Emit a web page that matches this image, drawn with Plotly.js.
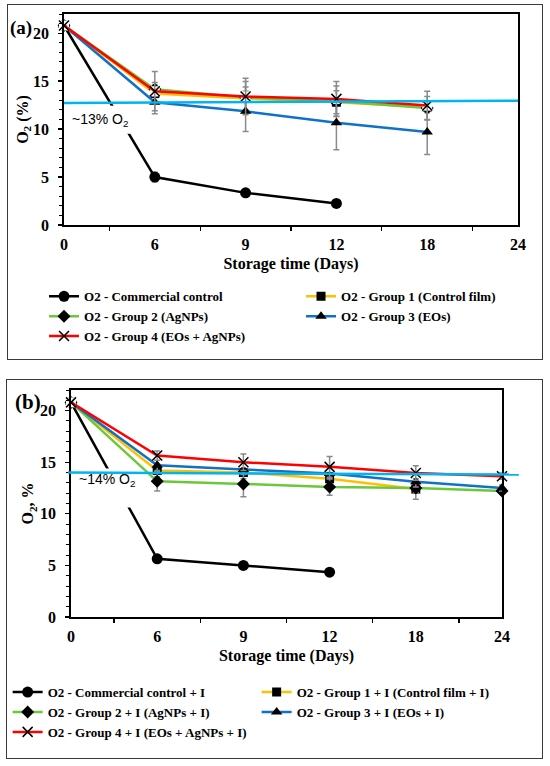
<!DOCTYPE html>
<html><head><meta charset="utf-8">
<script src="https://cdn.plot.ly/plotly-3.0.1.min.js"></script>
<style>
html,body{margin:0;padding:0;background:#fff;width:550px;height:766px;overflow:hidden}
.panel{position:absolute;box-sizing:border-box;border:1.5px solid #3a3a3a;background:#fff}
#pa{left:7px;top:4px;width:536px;height:356px}
#pb{left:6px;top:379px;width:537px;height:380px}
</style></head><body>
<div id="pa" class="panel"><div id="ga"></div></div>
<div id="pb" class="panel"><div id="gb"></div></div>
<script>
// ---------- shared ----------
const days = ['0', '6', '9', '12', '18', '24'];
const colors = { comm: '#000000', g1: '#FFC000', g2: '#6CC83A', g3: '#0F72C8', g4: '#FF0000', ref: '#00B4F0' };

// ---------- panel (a) ----------
const namesA = ['O2 - Commercial control', 'O2 - Group 1 (Control film)', 'O2 - Group 2 (AgNPs)', 'O2 - Group 3 (EOs)', 'O2 - Group 4 (EOs + AgNPs)'];
const aComm = [20.8, 5.0, 3.35, 2.25, null, null];
const aG1 = [20.8, 13.7, 13.2, 12.8, 12.3, null];
const aG2 = [20.8, 14.15, 13.3, 12.9, 12.2, null];
const aG3 = [20.8, 12.8, 11.85, 10.65, 9.7, null];
const aG4 = [20.8, 13.95, 13.4, 13.15, 12.45, null];
const aErrComm = [0, 0.5, 0.3, 0.3, 0, 0];
const aErrG1 = [0, 0.9, 1.2, 1.2, 0.6, 0];
const aErrG2 = [0, 0.7, 1.65, 1.6, 1.2, 0];
const aErrG3 = [0, 1.2, 2.1, 2.8, 2.35, 0];
const aErrG4 = [0, 2.05, 1.9, 1.8, 1.5, 0];
const aRef = [12.72, 12.95];
const aLabel = '~13% O<sub>2</sub>';

// ---------- panel (b) ----------
const namesB = ['O2 - Commercial control + I', 'O2 - Group 1 + I (Control film + I)', 'O2 - Group 2 + I (AgNPs + I)', 'O2 - Group 3 + I (EOs + I)', 'O2 - Group 4 + I (EOs + AgNPs + I)'];
const bComm = [20.8, 5.64, 5.0, 4.34, null, null];
const bG1 = [20.8, 14.2, 14.0, 13.4, 12.4, null];
const bG2 = [20.8, 13.15, 12.9, 12.6, 12.5, 12.2];
const bG3 = [20.8, 14.7, 14.3, 13.9, 13.1, 12.5];
const bG4 = [20.8, 15.65, 15.0, 14.55, 13.95, 13.65];
const bErrComm = [0, 0.3, 0.3, 0.3, 0, 0];
const bErrG1 = [0, 0.6, 0.6, 0.6, 1.0, 0];
const bErrG2 = [0, 0.95, 1.25, 0.8, 0.4, 0.3];
const bErrG3 = [0, 0.5, 0.5, 0.5, 0.5, 0.3];
const bErrG4 = [0, 0.45, 0.8, 1.0, 0.7, 0.3];
const bRef = [14.0, 13.8];
const bLabel = '~14% O<sub>2</sub>';

const serif = 'Liberation Serif, Times New Roman, serif';

function series(name, y, err, color, symbol, size, extra) {
  return Object.assign({
    type: 'scatter', mode: 'lines+markers', name: name, x: days, y: y,
    line: { color: color, width: 2.5 },
    marker: { symbol: symbol, size: size, color: '#000', line: { width: 0 } },
    error_y: { type: 'data', array: err, visible: true, color: '#8a8a8a', thickness: 1.5, width: 3 },
    cliponaxis: false, hoverinfo: 'x+y+name'
  }, extra || {});
}
function underlay(y) {
  return { type: 'scatter', mode: 'markers', x: days, y: y, showlegend: false, hoverinfo: 'skip',
    marker: { symbol: 'square', size: 10, color: '#fff', line: { width: 0 } }, cliponaxis: false };
}
function x4(name, y, err) {
  return series(name, y, err, colors.g4, 'x-thin', 10,
    { marker: { symbol: 'x-thin', size: 10, color: '#000', line: { width: 1.5, color: '#000' } } });
}
function build(names, c, g1, g2, g3, g4, e) {
  return [
    series(names[0], c, e[0], colors.comm, 'circle', 11),
    series(names[1], g1, e[1], colors.g1, 'square', 9),
    series(names[2], g2, e[2], colors.g2, 'diamond', 10),
    series(names[3], g3, e[3], colors.g3, 'triangle-up', 10),
    underlay(g4),
    x4(names[4], g4, e[4])
  ];
}

function layout(o) {
  const tf = { family: serif, size: o.tick, color: '#000', weight: 'bold' };
  return {
    width: o.w, height: o.h, margin: Object.assign({ autoexpand: false }, o.m),
    paper_bgcolor: 'rgba(0,0,0,0)', plot_bgcolor: '#fff', showlegend: true,
    font: { family: serif, color: '#000' },
    xaxis: {
      type: 'category', categoryorder: 'array', categoryarray: days, range: [0, 5],
      tickson: 'boundaries', ticks: 'outside', ticklen: 4, tickwidth: 1.3, tickcolor: '#000',
      showline: true, linecolor: '#000', linewidth: 1.8, mirror: true, showgrid: false, zeroline: false,
      tickfont: tf, ticklabelstandoff: 4, automargin: false,
      title: { text: 'Storage time (Days)', font: { family: serif, size: 16, color: '#000', weight: 'bold' }, standoff: o.xs }
    },
    yaxis: {
      range: [0, 22], tick0: 0, dtick: 5, ticks: 'outside', ticklen: 4, tickwidth: 1.3, tickcolor: '#000',
      minor: { dtick: 1, ticks: 'outside', ticklen: 3, tickwidth: 1, tickcolor: '#000', showgrid: false },
      showline: true, linecolor: '#000', linewidth: 1.8, mirror: true, showgrid: false, zeroline: false,
      tickfont: tf, ticklabelstandoff: 6, automargin: false,
      title: { text: o.ytitle, font: { family: serif, size: 16, color: '#000', weight: 'bold' }, standoff: o.ys }
    },
    legend: {
      orientation: 'h', x: o.lx, xanchor: 'left', y: o.ly, yanchor: 'top',
      entrywidth: o.ew, entrywidthmode: 'pixels', traceorder: 'normal',
      font: { family: serif, size: 13, color: '#000', weight: 'bold' }, bgcolor: 'rgba(0,0,0,0)'
    },
    shapes: [
      { type: 'rect', xref: 'paper', yref: 'paper', x0: o.box[0], x1: o.box[1], y0: o.box[2], y1: o.box[3],
        fillcolor: '#fff', line: { width: 0 }, layer: 'above' },
      { type: 'line', xref: 'paper', yref: 'y', x0: o.refx[0], x1: o.refx[1], y0: o.ref[0], y1: o.ref[1],
        line: { color: colors.ref, width: 2.5 }, layer: 'above' }
    ],
    annotations: [
      { xref: 'paper', yref: 'paper', x: o.lab[0], y: o.lab[1], text: o.label, showarrow: false,
        font: { family: 'Liberation Sans, Arial, sans-serif', size: 14, color: '#000' }, xanchor: 'center', yanchor: 'middle' },
      { xref: 'paper', yref: 'paper', x: o.pl[0], y: o.pl[1], text: o.panel, showarrow: false,
        font: { family: serif, size: o.pls, color: '#000', weight: 'bold' }, xanchor: 'center', yanchor: 'middle' }
    ]
  };
}

const cfg = { displayModeBar: false, staticPlot: true };

Plotly.newPlot('ga', build(namesA, aComm, aG1, aG2, aG3, aG4, [aErrComm, aErrG1, aErrG2, aErrG3, aErrG4]),
  layout({ w: 533, h: 353, m: { l: 55.5, r: 22.5, t: 8.5, b: 132.8 }, tick: 16, xs: 6, ys: 0,
    ytitle: 'O<sub>2</sub> (%)', lx: -0.044, ly: -0.267, ew: 212,
    box: [0.009, 0.149, 0.433, 0.565], refx: [0, 1], ref: aRef, lab: [0.079, 0.499], label: aLabel,
    pl: [-0.0945, 0.934], panel: '(a)', pls: 19 }), cfg);

Plotly.newPlot('gb', build(namesB, bComm, bG1, bG2, bG3, bG4, [bErrComm, bErrG1, bErrG2, bErrG3, bErrG4]),
  layout({ w: 534, h: 377, m: { l: 63.5, r: 38.5, t: 10.2, b: 140.2 }, tick: 16, xs: 6, ys: 2,
    ytitle: 'O<sub>2</sub>, %', lx: -0.147, ly: -0.265, ew: 204,
    box: [0.009, 0.16, 0.482, 0.654], refx: [-0.007, 1.039], ref: bRef, lab: [0.083, 0.6015], label: bLabel,
    pl: [-0.0995, 0.946], panel: '(b)', pls: 21 }), cfg);
</script>
</body></html>
